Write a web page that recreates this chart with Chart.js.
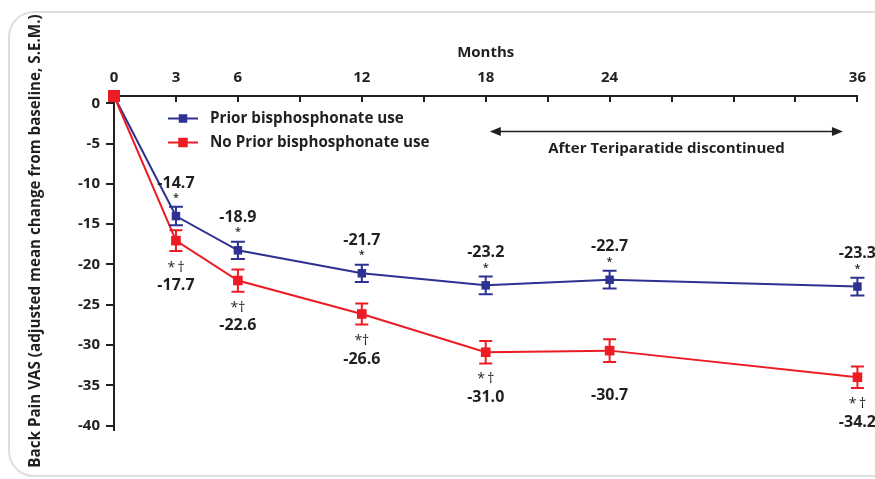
<!DOCTYPE html>
<html><head><meta charset="utf-8">
<script src="https://cdn.jsdelivr.net/npm/chart.js@4"></script>
<style>
html,body{margin:0;padding:0;background:#fff;width:875px;height:479px;overflow:hidden;}
#frame{position:absolute;left:8px;top:11px;width:930px;height:462px;border:2px solid #dedede;border-radius:26px;box-sizing:content-box;}
#wrap{position:absolute;left:0;top:0;width:875px;height:479px;}
</style></head><body>
<div id="frame"></div>
<div id="wrap"><canvas id="c" width="875" height="479"></canvas></div>
<script>
// ---- data ----
const months = [0, 3, 6, 12, 18, 24, 36];
const monthTickLabels = [0, 3, 6, 12, 18, 24, 36];
const minorTickMonths = [3, 6, 9, 12, 15, 18, 21, 24, 27, 30, 33, 36];
const yTickValues = [0, -5, -10, -15, -20, -25, -30, -35, -40];
const seriesNames = ['Prior bisphosphonate use', 'No Prior bisphosphonate use'];
const priorMean = [0.9, -14.0, -18.25, -21.1, -22.6, -21.9, -22.75];
const priorSEM = [0, 1.15, 1.07, 1.07, 1.1, 1.1, 1.1];
const noPriorMean = [0.9, -17.05, -22.0, -26.15, -30.9, -30.7, -34.0];
const noPriorSEM = [0, 1.3, 1.38, 1.3, 1.4, 1.4, 1.33];
const priorLabels = ['', '-14.7', '-18.9', '-21.7', '-23.2', '-22.7', '-23.3'];
const priorMarks = ['', '*', '*', '*', '*', '*', '*'];
const noPriorLabels = ['', '-17.7', '-22.6', '-26.6', '-31.0', '-30.7', '-34.2'];
const noPriorMarks = ['', '*\u2009\u2020', '*\u2020', '*\u2020', '*\u2009\u2020', '', '*\u2009\u2020'];
const xTitle = 'Months';
const yTitle = 'Back Pain VAS (adjusted mean change from baseline, S.E.M.)';
const periodText = 'After Teriparatide discontinued';
const periodFrom = 18.2, periodTo = 35.3, periodLevel = -3.5;

// ---- styles ----
const BLUE = '#2e3192', RED = '#ed1c24', INK = '#231f20';
const FONT = "'Open Sans', sans-serif";
const W = '700';

const annotate = {
  id: 'annotate',
  afterDatasetsDraw(chart) {
    const ctx = chart.ctx, xs = chart.scales.x, ys = chart.scales.y;
    const area = chart.chartArea;
    ctx.save();
    // x tick marks pointing inside
    ctx.strokeStyle = INK; ctx.lineWidth = 2;
    minorTickMonths.forEach(m => {
      const px = Math.round(xs.getPixelForValue(m));
      ctx.beginPath(); ctx.moveTo(px, area.top); ctx.lineTo(px, area.top + 6); ctx.stroke();
    });
    // error bars
    chart.data.datasets.forEach(ds => {
      ctx.strokeStyle = ds.borderColor; ctx.lineWidth = 2;
      ds.data.forEach((p, j) => {
        const s = ds.sem[j]; if (!s) return;
        const px = xs.getPixelForValue(p.x);
        const yt = ys.getPixelForValue(p.y + s), yb = ys.getPixelForValue(p.y - s);
        const hw = ds.capHalf;
        ctx.beginPath();
        ctx.moveTo(px, yt); ctx.lineTo(px, yb);
        ctx.moveTo(px - hw, yt); ctx.lineTo(px + hw, yt);
        ctx.moveTo(px - hw, yb); ctx.lineTo(px + hw, yb);
        ctx.stroke();
      });
    });
    // value labels
    ctx.fillStyle = INK; ctx.textAlign = 'center'; ctx.textBaseline = 'middle';
    months.forEach((m, j) => {
      const px = xs.getPixelForValue(m);
      const pb = ys.getPixelForValue(priorMean[j]);
      if (priorLabels[j]) {
        ctx.font = W + " 16px " + FONT;
        ctx.fillText(priorLabels[j], px, pb - 33);
        ctx.font = "600 11px " + FONT;
        ctx.fillText(priorMarks[j], px, pb - 18);
      }
      const pr = ys.getPixelForValue(noPriorMean[j]);
      if (noPriorLabels[j]) {
        ctx.font = W + " 16px " + FONT;
        ctx.fillText(noPriorLabels[j], px, pr + 45);
        if (noPriorMarks[j]) {
          ctx.font = "400 14px " + FONT;
          ctx.fillText(noPriorMarks[j], px, pr + 27);
        }
      }
    });
    // legend (in series order)
    const byLabel = {};
    chart.data.datasets.forEach(ds => { byLabel[ds.label] = ds; });
    seriesNames.forEach((name, i) => {
      const ds = byLabel[name];
      const ly = 118.5 + i * 24;
      ctx.strokeStyle = ds.borderColor; ctx.lineWidth = 2;
      ctx.beginPath(); ctx.moveTo(168, ly); ctx.lineTo(198, ly); ctx.stroke();
      ctx.fillStyle = ds.borderColor;
      const sq = i === 0 ? 8.5 : 9.5;
      ctx.fillRect(183 - sq / 2, ly - sq / 2, sq, sq);
      ctx.fillStyle = INK; ctx.textAlign = 'left';
      ctx.font = W + " 15.2px " + FONT;
      ctx.fillText(name, 210, ly + 0.5);
    });
    // period arrow
    const ax1 = xs.getPixelForValue(periodFrom), ax2 = xs.getPixelForValue(periodTo);
    const ay = Math.round(ys.getPixelForValue(periodLevel)) + 0.5;
    ctx.strokeStyle = INK; ctx.fillStyle = INK; ctx.lineWidth = 1.3;
    ctx.beginPath(); ctx.moveTo(ax1 + 8, ay); ctx.lineTo(ax2 - 8, ay); ctx.stroke();
    ctx.beginPath(); ctx.moveTo(ax1, ay); ctx.lineTo(ax1 + 11, ay - 4.5); ctx.lineTo(ax1 + 11, ay + 4.5); ctx.closePath(); ctx.fill();
    ctx.beginPath(); ctx.moveTo(ax2, ay); ctx.lineTo(ax2 - 11, ay - 4.5); ctx.lineTo(ax2 - 11, ay + 4.5); ctx.closePath(); ctx.fill();
    ctx.textAlign = 'center'; ctx.font = W + " 15px " + FONT;
    ctx.fillText(periodText, (ax1 + ax2) / 2, ay + 17);
    // y title
    ctx.save();
    ctx.translate(36, 241); ctx.rotate(-Math.PI / 2);
    ctx.font = W + " 15.2px " + FONT; ctx.textAlign = 'center'; ctx.textBaseline = 'middle';
    ctx.fillText(yTitle, 0, 0);
    ctx.restore();
    ctx.restore();
  }
};

new Chart(document.getElementById('c'), {
  type: 'line',
  data: {
    datasets: [
      {
        label: seriesNames[1],
        data: months.map((m, i) => ({ x: m, y: noPriorMean[i] })),
        sem: noPriorSEM, capHalf: 6.5,
        borderColor: RED, backgroundColor: RED, borderWidth: 2,
        pointStyle: 'rect', pointRadius: months.map((m, i) => i === 0 ? 8.5 : 6.8),
        pointBorderWidth: 0, pointHoverRadius: 7, tension: 0, clip: false, order: 1
      },
      {
        label: seriesNames[0],
        data: months.map((m, i) => ({ x: m, y: priorMean[i] })),
        sem: priorSEM, capHalf: 7,
        borderColor: BLUE, backgroundColor: BLUE, borderWidth: 2,
        pointStyle: 'rect', pointRadius: 6, pointBorderWidth: 0,
        pointHoverRadius: 6, tension: 0, clip: false, order: 2
      }
    ]
  },
  options: {
    responsive: false, animation: false,
    layout: { padding: { left: 0, top: 0, right: 14, bottom: 49 } },
    plugins: { legend: { display: false }, tooltip: { enabled: false } },
    scales: {
      x: {
        type: 'linear', position: 'top', min: 0, max: 36,
        afterBuildTicks: s => { s.ticks = [0].concat(minorTickMonths).map(v => ({ value: v })); },
        afterFit: s => { s.height = 96; },
        ticks: {
          autoSkip: false, maxRotation: 0, padding: 9, color: INK,
          font: { family: FONT, size: 15, weight: W },
          callback: v => monthTickLabels.includes(v) ? String(v) : ''
        },
        grid: { drawOnChartArea: false, drawTicks: false },
        border: { display: true, color: INK, width: 2 },
        title: { display: true, text: xTitle, color: INK, font: { family: FONT, size: 15, weight: W }, padding: { top: 44, bottom: 0 } }
      },
      y: {
        min: -40.55, max: 0.9,
        afterBuildTicks: s => { s.ticks = yTickValues.map(v => ({ value: v })); },
        afterFit: s => { s.width = 114; },
        ticks: { padding: 6, color: INK, font: { family: FONT, size: 15, weight: W } },
        grid: { drawOnChartArea: false, drawTicks: true, tickLength: 8, color: INK, lineWidth: 2 },
        border: { display: true, color: INK, width: 2 }
      }
    }
  },
  plugins: [annotate]
});
</script>
</body></html>
